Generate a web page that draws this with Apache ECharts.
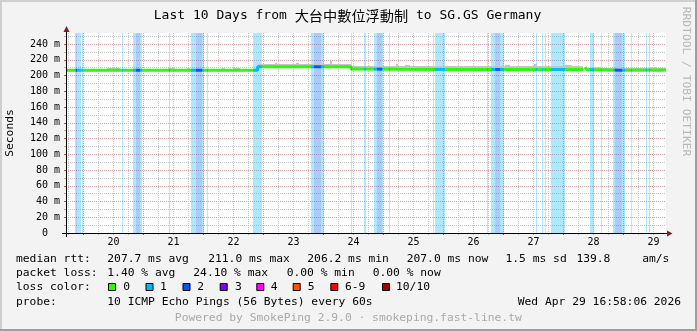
<!DOCTYPE html>
<html>
<head>
<meta charset="utf-8">
<script src="https://cdn.jsdelivr.net/npm/echarts@6.0.0/dist/echarts.min.js"></script>
<style>
html,body{margin:0;padding:0;background:#f3f3f3;overflow:hidden}
#chart{width:697px;height:331px}
</style>
</head>
<body>
<div id="chart"></div>
<script>
// ---------------- data ----------------
const titleParts = ['Last 10 Days from ', '大台中數位浮動制', ' to SG.GS Germany'];
// x values are hours since Apr 19 00:00 (10 days ending Wed Apr 29 16:58)
const xRange = [16.967, 256.967];
const dayLabels = ['20', '21', '22', '23', '24', '25', '26', '27', '28', '29'];
const dayLabelHours = [36, 60, 84, 108, 132, 156, 180, 204, 228, 252];
const majorXTicks = [24, 48, 72, 96, 120, 144, 168, 192, 216, 240];
const minorXTicks = [18, 30, 36, 42, 54, 60, 66, 78, 84, 90, 102, 108, 114, 126, 132, 138, 150, 156, 162,
  174, 180, 186, 198, 204, 210, 222, 228, 234, 246, 252];
const yMax = 254;
const yMajorTicks = [0, 20, 40, 60, 80, 100, 120, 140, 160, 180, 200, 220, 240];
const yTickLabels = ['0\u00a0\u00a0', '20 m', '40 m', '60 m', '80 m', '100 m', '120 m', '140 m', '160 m',
  '180 m', '200 m', '220 m', '240 m'];
const yMinorTicks = [10, 30, 50, 70, 90, 110, 130, 150, 170, 190, 210, 230, 250];

// median RTT (ms), step changes
const medianHours = [16.967, 93.6, 131.0, 134.0, 150.0, 175.0, 200.0, 223.8, 224.0, 224.6, 225.4, 227.6, 240.0, 256.967];
const medianMs    = [206.6, 211.0, 208.2, 207.9, 207.8, 207.6, 207.8, 207.8, null, 210.4, 207.4, 206.8, 206.9, 207.0];

// packet loss periods (hours) and loss count out of 10
const lossStart = [20.6, 21.0, 21.5, 23.4, 39.4, 43.8, 45.0, 46.6, 58.2, 67.0, 69.0, 71.4, 73.4, 91.6,
  115.0, 116.2, 119.0, 131.0, 136.2, 140.2, 141.4, 143.4, 146.0, 163.6, 164.6, 185.4, 187.0, 188.6, 190.6,
  205.0, 207.4, 208.6, 211.0, 226.6, 231.0, 235.8, 236.6, 239.4, 243.0, 249.0, 250.2];
const lossEnd = [21.0, 21.5, 23.0, 23.8, 39.8, 45.0, 46.6, 47.4, 58.6, 69.0, 71.4, 72.0, 73.8, 95.4,
  116.2, 119.0, 120.0, 131.4, 137.0, 141.4, 143.4, 143.8, 146.6, 164.2, 168.6, 185.8, 188.6, 190.6, 192.0,
  205.4, 207.8, 209.0, 216.6, 228.0, 231.4, 236.6, 239.4, 240.6, 243.4, 249.4, 250.6];
const lossLevel = [1, 2, 1, 1, 1, 1, 2, 1, 1, 1, 2, 1, 1, 1,
  1, 2, 1, 1, 1, 1, 2, 1, 1, 1, 1, 1, 1, 2, 1,
  1, 1, 1, 1, 1, 1, 1, 2, 1, 1, 1, 1];

// smoke (spread of the pings), hours and ms
const smokeStart = [16.967, 33.4, 57.8, 65.4, 79.4, 83.8, 93.6, 100.6, 109.0, 122.6,
  131.0, 138.0, 149.0, 152.6, 192.6, 204.2, 216.6, 225.4, 228.6, 236.6, 250.6];
const smokeEnd = [93.6, 38.6, 60.6, 66.6, 80.6, 86.6, 131.0, 101.4, 110.2, 123.4,
  223.8, 142.0, 149.8, 154.6, 194.6, 205.4, 219.4, 256.967, 230.6, 239.4, 253.4];
const smokeLow = [205.5, 206, 206, 206, 206, 206, 210.5, 210.5, 210.5, 210.5,
  207.5, 207.5, 207.5, 207.5, 207.5, 207.5, 207.5, 206, 206, 206, 206];
const smokeHigh = [208.2, 209.8, 209.8, 209.4, 209.8, 209.4, 214.2, 216, 216, 218,
  211.5, 212.5, 215, 213, 213, 215, 213, 209.4, 211, 211, 211];

const legendLossLabels = ['0', '1', '2', '3', '4', '5', '6-9', '10/10'];
const legendLossColors = ['#26ff00', '#00b8ff', '#0059ff', '#7e00ff', '#ff00ff', '#ff5500', '#ff0000', '#a10000'];
const rttStats = ['207.7 ms avg', '211.0 ms max', '206.2 ms min', '207.0 ms now', '1.5 ms sd', '139.8', 'am/s'];
const lossStats = ['1.40 % avg', '24.10 % max', '0.00 % min', '0.00 % now'];
const rowHeads = ['median rtt:', 'packet loss:', 'loss color:', 'probe:'];
const probeText = '10 ICMP Echo Pings (56 Bytes) every 60s';
const dateText = 'Wed Apr 29 16:58:06 2026';
const footerText = 'Powered by SmokePing 2.9.0 · smokeping.fast-line.tw';
const watermarkText = 'RRDTOOL / TOBI OETIKER';
const yAxisTitle = 'Seconds';

// ---------------- layout / style ----------------
const MONO = '"DejaVu Sans Mono", "Noto Sans CJK TC", monospace';
const legendFont = '11.3px ' + MONO;
const rowY = [259.3, 273.3, 287.3, 301.7];
const rttX = [107.3, 208.2, 307.3, 406.7, 505.5, 576.4, 642.2];
const lossX = [107.3, 193.3, 286.7, 372.7];
const swatchX = [108, 145.5, 182.5, 219.7, 256.3, 292.7, 330.3, 382];
const swatchLabelX = [123.3, 160, 197.3, 235, 270.7, 307.7, 345, 396];
const bandFill = {1: 'rgba(0,184,255,0.32)', 2: 'rgba(0,89,255,0.32)'};
const lineColor = {1: '#00b8ff', 2: '#0059ff'};
const majorGrid = '#d9a0a0';
const minorGrid = '#c6c6c6';

function txt(x, y, text, align, extra) {
  return Object.assign({
    type: 'text', x: x, y: y, z: 10,
    style: {text: text, font: legendFont, fill: '#000', align: align || 'left', textAlign: align || 'left',
      verticalAlign: 'middle', textVerticalAlign: 'middle'}
  }, extra || {});
}

const graphics = [];
// frame
graphics.push({type: 'rect', shape: {x: 0, y: 0, width: 697, height: 2}, style: {fill: '#cfcfcf'}, z: 10});
graphics.push({type: 'rect', shape: {x: 0, y: 0, width: 2, height: 331}, style: {fill: '#cfcfcf'}, z: 10});
graphics.push({type: 'rect', shape: {x: 0, y: 329, width: 697, height: 2}, style: {fill: '#9e9e9e'}, z: 10});
graphics.push({type: 'rect', shape: {x: 695, y: 0, width: 2, height: 331}, style: {fill: '#9e9e9e'}, z: 10});
// title
graphics.push({
  type: 'text', x: 347.5, y: 15.5, z: 10,
  style: {
    text: '{a|' + titleParts[0] + '}{b|' + titleParts[1] + '}{a|' + titleParts[2] + '}',
    align: 'center', textAlign: 'center', verticalAlign: 'middle', textVerticalAlign: 'middle',
    rich: {a: {font: '13px ' + MONO, fill: '#000'}, b: {font: '14.2px "Noto Sans CJK TC"', fill: '#000'}}
  }
});
// axis title and watermark
graphics.push(txt(10.5, 133, yAxisTitle, 'center', {rotation: Math.PI / 2}));
graphics.push(txt(686, 81.5, watermarkText, 'center', {rotation: -Math.PI / 2}));
graphics[graphics.length - 1].style.fill = '#b8b8b8';
// arrows
graphics.push({type: 'polygon', z: 10, shape: {points: [[63.5, 32], [66.5, 26], [69.5, 32]]}, style: {fill: '#7f1f1f'}});
graphics.push({type: 'polygon', z: 10, shape: {points: [[667, 230.5], [672.5, 233.5], [667, 236.5]]}, style: {fill: '#7f1f1f'}});
graphics.push({type: 'line', z: 10, shape: {x1: 62, y1: 233.5, x2: 667, y2: 233.5}, style: {stroke: '#000', lineWidth: 1}});
graphics.push({type: 'line', z: 10, shape: {x1: 66.5, y1: 237, x2: 66.5, y2: 32}, style: {stroke: '#000', lineWidth: 1}});
// legend rows
rowHeads.forEach((h, i) => graphics.push(txt(16, rowY[i], h)));
rttStats.forEach((s, i) => graphics.push(txt(rttX[i], rowY[0], s)));
lossStats.forEach((s, i) => graphics.push(txt(lossX[i], rowY[1], s)));
legendLossLabels.forEach((l, i) => {
  graphics.push({type: 'rect', z: 10, shape: {x: swatchX[i] + 0.5, y: 283.5, width: 7, height: 7},
    style: {fill: legendLossColors[i], stroke: '#000', lineWidth: 1}});
  graphics.push(txt(swatchLabelX[i], rowY[2], l));
});
graphics.push(txt(107.3, rowY[3], probeText));
graphics.push(txt(681, rowY[3], dateText, 'right'));
graphics.push(txt(348.3, 318.3, footerText, 'center'));
graphics[graphics.length - 1].style.fill = '#a9a9a9';

// ---------------- chart ----------------
const chart = echarts.init(document.getElementById('chart'), null, {renderer: 'canvas'});

const pieces = lossStart.map((s, i) => ({gte: s, lt: lossEnd[i], color: lineColor[lossLevel[i]]}));

const option = {
  animation: false,
  backgroundColor: '#f3f3f3',
  grid: {left: 66, right: 31, top: 33, bottom: 98, show: true, backgroundColor: '#ffffff', borderWidth: 0},
  xAxis: [
    {
      type: 'value', min: xRange[0], max: xRange[1], position: 'bottom',
      axisLine: {show: false},
      axisTick: {show: true, customValues: majorXTicks, length: 2, lineStyle: {color: '#c05050'}},
      splitLine: {show: true, lineStyle: {color: majorGrid, type: [1, 1], width: 1}},
      axisLabel: {
        customValues: dayLabelHours, margin: 4, fontSize: 10, fontFamily: MONO, color: '#000',
        formatter: v => dayLabels[dayLabelHours.indexOf(v)]
      }
    },
    {
      type: 'value', min: xRange[0], max: xRange[1], position: 'bottom',
      axisLine: {show: false},
      axisTick: {show: true, customValues: minorXTicks, length: 2, lineStyle: {color: '#b0b0b0'}},
      splitLine: {show: true, lineStyle: {color: minorGrid, type: [1, 1], width: 1}},
      axisLabel: {show: false}
    }
  ],
  yAxis: [
    {
      type: 'value', min: 0, max: yMax, position: 'left',
      axisLine: {show: false},
      axisTick: {show: true, customValues: yMajorTicks, length: 2, lineStyle: {color: '#c05050'}},
      splitLine: {show: true, lineStyle: {color: majorGrid, type: [1, 1], width: 1}},
      axisLabel: {
        customValues: yMajorTicks, margin: 6, fontSize: 10, fontFamily: MONO, color: '#000',
        formatter: v => yTickLabels[yMajorTicks.indexOf(v)]
      }
    },
    {
      type: 'value', min: 0, max: yMax, position: 'left',
      axisLine: {show: false},
      axisTick: {show: true, customValues: yMinorTicks, length: 2, lineStyle: {color: '#b0b0b0'}},
      splitLine: {show: true, lineStyle: {color: minorGrid, type: [1, 1], width: 1}},
      axisLabel: {show: false}
    }
  ],
  visualMap: {
    type: 'piecewise', show: false, dimension: 0, seriesIndex: 2,
    pieces: pieces, outOfRange: {color: '#26ff00'}
  },
  series: [
    {
      name: 'loss', type: 'custom', clip: true, xAxisIndex: 0, yAxisIndex: 0,
      encode: {x: [0, 1], y: 2},
      data: lossStart.map((s, i) => [s, lossEnd[i], lossLevel[i]]),
      renderItem: (params, api) => {
        const cs = params.coordSys;
        const x0 = Math.round(api.coord([api.value(0), 0])[0]);
        const x1 = Math.max(x0 + 1, Math.round(api.coord([api.value(1), 0])[0]));
        return {type: 'rect', shape: {x: x0, y: cs.y, width: x1 - x0, height: cs.height},
          style: {fill: bandFill[api.value(2)]}};
      }
    },
    {
      name: 'smoke', type: 'custom', clip: true, xAxisIndex: 0, yAxisIndex: 0,
      encode: {x: [0, 1], y: [2, 3]},
      data: smokeStart.map((s, i) => [s, smokeEnd[i], smokeLow[i], smokeHigh[i]]),
      renderItem: (params, api) => {
        const p0 = api.coord([api.value(0), api.value(3)]);
        const p1 = api.coord([api.value(1), api.value(2)]);
        const x0 = Math.round(p0[0]), x1 = Math.max(x0 + 1, Math.round(p1[0]));
        const y0 = Math.round(p0[1]), y1 = Math.round(p1[1]);
        return {type: 'rect', shape: {x: x0, y: y0, width: x1 - x0, height: y1 - y0},
          style: {fill: '#c4c4c4'}};
      }
    },
    {
      name: 'median rtt', type: 'line', xAxisIndex: 0, yAxisIndex: 0,
      step: 'end', symbol: 'none', showSymbol: false, connectNulls: false,
      lineStyle: {width: 3},
      data: medianHours.map((h, i) => [h, medianMs[i]])
    }
  ],
  graphic: graphics
};
chart.setOption(option);
</script>
</body>
</html>
